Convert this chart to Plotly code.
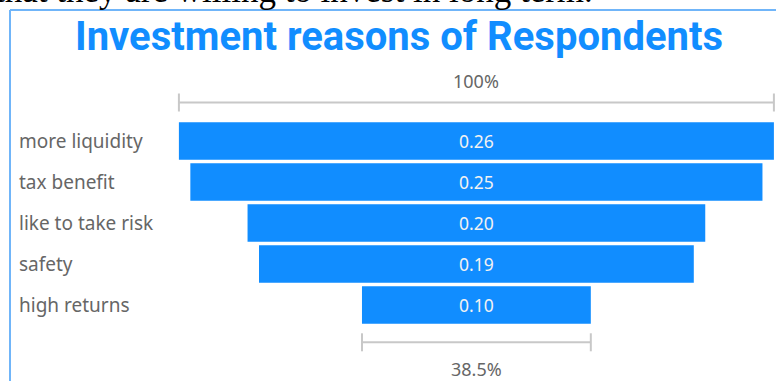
import plotly.graph_objects as go

categories = ["more liquidity", "tax benefit", "like to take risk", "safety", "high returns"]
values = [0.26, 0.25, 0.20, 0.19, 0.10]
value_labels = ["0.26", "0.25", "0.20", "0.19", "0.10"]
title_text = "Investment reasons of Respondents"
cut_text = "that they are willing to invest in long term."

W, H = 776, 381
BLUE = "#118DFF"
GRAY_LINE = "#c8c8c8"
LABEL_COLOR = "#666666"

# pixel helpers for layout mapping
cx_px, unit_px = 476.4, 595 / 0.26
y0_px, pitch_px = 141.0, 41.0
x_range = [-cx_px / unit_px, (W - cx_px) / unit_px]
y_range = [(H - y0_px) / pitch_px, (0 - y0_px) / pitch_px]

def ydata(px):
    return (px - y0_px) / pitch_px

n = len(values)
idx = list(range(n))

fig = go.Figure()
fig.add_trace(go.Bar(
    y=idx, x=values, base=[-v / 2 for v in values], orientation="h",
    marker=dict(color=BLUE, line=dict(width=0)),
    text=value_labels, textposition="inside", insidetextanchor="middle",
    textfont=dict(family="Noto Sans", size=17.5, color="#f2f2f2"),
    hoverinfo="skip",
))

shapes = []
annotations = []

# measure lines
top_y = ydata(102.5)
bot_y = ydata(342.3)
cap = 9 / pitch_px
for v, yy in [(values[0], top_y), (values[-1], bot_y)]:
    shapes.append(dict(type="line", xref="x", yref="y", x0=-v / 2, x1=v / 2, y0=yy, y1=yy,
                       line=dict(color=GRAY_LINE, width=2)))
    for sx in (-v / 2, v / 2):
        shapes.append(dict(type="line", xref="x", yref="y", x0=sx, x1=sx, y0=yy - cap, y1=yy + cap,
                           line=dict(color=GRAY_LINE, width=2)))

pct_top = "100%"
pct_bot = f"{values[-1] / values[0] * 100:.1f}%"
annotations.append(dict(x=0, y=ydata(81), xref="x", yref="y", text=pct_top, showarrow=False,
                        font=dict(family="Noto Sans", size=18, color=LABEL_COLOR)))
annotations.append(dict(x=0, y=ydata(369), xref="x", yref="y", text=pct_bot, showarrow=False,
                        font=dict(family="Noto Sans", size=18, color=LABEL_COLOR)))

# category labels, left aligned
for i, c in enumerate(categories):
    annotations.append(dict(x=17 / W, y=i, xref="paper", yref="y", text=c, showarrow=False,
                            xanchor="left", yanchor="middle",
                            font=dict(family="Noto Sans", size=19, color=LABEL_COLOR)))

# title
annotations.append(dict(x=399 / W, y=1 - 36 / H, xref="paper", yref="paper", text=f"<b>{title_text}</b>",
                        showarrow=False, xanchor="center", yanchor="middle",
                        font=dict(family="Roboto", size=40, color=BLUE)))

# cut-off text from page above
annotations.append(dict(x=595 / W, y=1 + 9.8 / H, xref="paper", yref="paper", text=cut_text,
                        showarrow=False, xanchor="right", yanchor="middle",
                        font=dict(family="Liberation Serif", size=35, color="black")))

# visual frame border
shapes.append(dict(type="line", xref="paper", yref="paper", x0=10 / W, x1=1, y0=1 - 10 / H, y1=1 - 10 / H,
                   line=dict(color="#70b5f9", width=2)))
shapes.append(dict(type="line", xref="paper", yref="paper", x0=10 / W, x1=10 / W, y0=0, y1=1 - 10 / H,
                   line=dict(color="#70b5f9", width=2)))

fig.update_layout(
    width=W, height=H, margin=dict(l=0, r=0, t=0, b=0),
    paper_bgcolor="white", plot_bgcolor="white",
    bargap=1 - 37.5 / pitch_px,
    showlegend=False,
    xaxis=dict(range=x_range, visible=False, fixedrange=True),
    yaxis=dict(range=y_range, visible=False, fixedrange=True),
    shapes=shapes, annotations=annotations,
)

fig.write_html("out.html", config={"displayModeBar": False},
               post_script="document.body.style.margin='0';")
